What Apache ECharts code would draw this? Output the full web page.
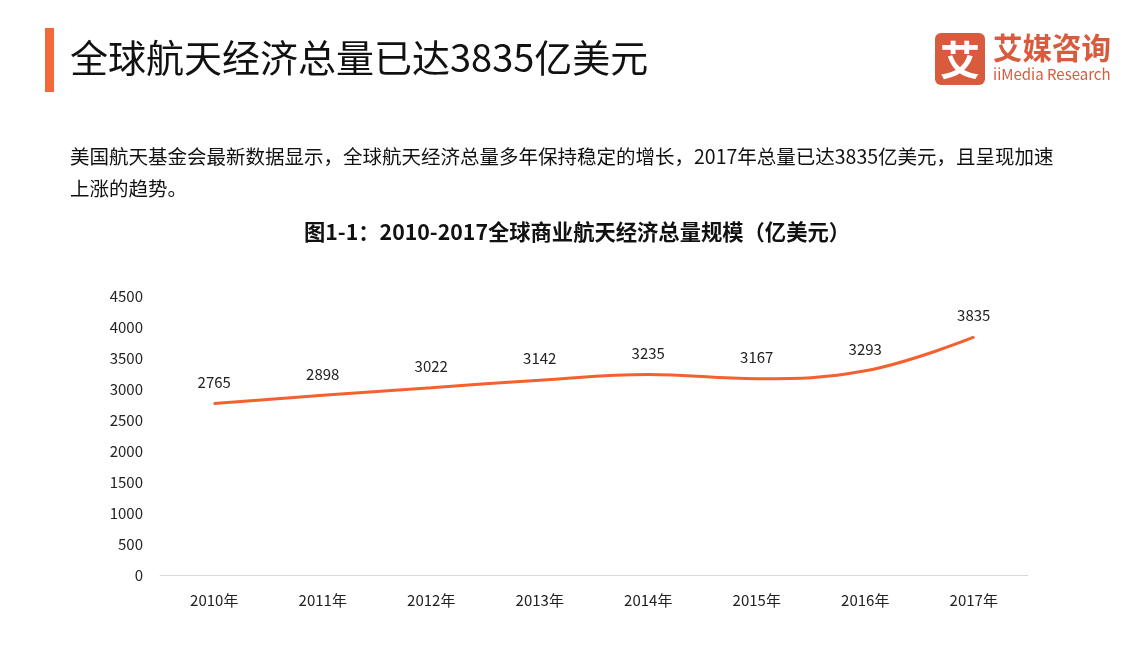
<!DOCTYPE html>
<html><head><meta charset="utf-8">
<script src="https://cdn.jsdelivr.net/npm/echarts@6/dist/echarts.min.js"></script>
<style>html,body{margin:0;padding:0;background:#fff}#c{width:1134px;height:661px}</style>
</head><body><div id="c"></div>
<script>
const categories = ['2010年','2011年','2012年','2013年','2014年','2015年','2016年','2017年'];
const values = [2765, 2898, 3022, 3142, 3235, 3167, 3293, 3835];
const yTicks = [0, 500, 1000, 1500, 2000, 2500, 3000, 3500, 4000, 4500];
const headline = '全球航天经济总量已达3835亿美元';
const paragraph = ['美国航天基金会最新数据显示，全球航天经济总量多年保持稳定的增长，2017年总量已达3835亿美元，且呈现加速', '上涨的趋势。'];
const chartTitle = '图1-1：2010-2017全球商业航天经济总量规模（亿美元）';

const FONT = '"Noto Sans CJK SC","Noto Sans",sans-serif';
const chart = echarts.init(document.getElementById('c'));
chart.setOption({
  backgroundColor: '#fff',
  animation: false,
  grid: {left: 160, right: 106, top: 296, bottom: 86},
  xAxis: {
    type: 'category', data: categories, boundaryGap: true,
    axisLine: {lineStyle: {color: '#d9d9d9', width: 1}},
    axisTick: {show: false},
    axisLabel: {color: '#222', fontSize: 15, fontFamily: FONT, margin: 18}
  },
  yAxis: {
    type: 'value', min: yTicks[0], max: yTicks[yTicks.length-1], interval: 500,
    axisLine: {show: false}, axisTick: {show: false}, splitLine: {show: false},
    axisLabel: {color: '#222', fontSize: 15, fontFamily: FONT, margin: 17, formatter: v => String(v)}
  },
  series: [{
    type: 'line', data: values, smooth: 0.4, symbol: 'circle', symbolSize: 2, showSymbol: true,
    itemStyle: {color: '#f4602e'},
    lineStyle: {color: '#f4602e', width: 3},
    label: {show: true, position: 'top', distance: 13, color: '#222', fontSize: 15, fontFamily: FONT}
  }],
  graphic: [
    {type: 'rect', shape: {x: 45, y: 28, width: 9, height: 64}, style: {fill: '#f4683a'}},
    {type: 'text', x: 70, y: 58, style: {text: headline, font: '38px ' + FONT, fill: '#111', textVerticalAlign: 'middle'}},
    {type: 'text', x: 70, y: 157, style: {text: paragraph[0], font: '19.5px ' + FONT, fill: '#111', textVerticalAlign: 'middle'}},
    {type: 'text', x: 70, y: 189, style: {text: paragraph[1], font: '19.5px ' + FONT, fill: '#111', textVerticalAlign: 'middle'}},
    {type: 'text', x: 577, y: 232, style: {text: chartTitle, font: 'bold 21.3px ' + FONT, fill: '#111', textAlign: 'center', textVerticalAlign: 'middle'}},
    {type: 'rect', shape: {x: 935, y: 33, width: 50, height: 52, r: 6}, style: {fill: '#d95b3e'}},
    {type: 'text', x: 960, y: 60, style: {text: '艾', font: 'bold 40px ' + FONT, fill: '#fff', textAlign: 'center', textVerticalAlign: 'middle'}},
    {type: 'text', x: 993, y: 48, style: {text: '艾媒咨询', font: 'bold 29.5px ' + FONT, fill: '#d95b3e', textVerticalAlign: 'middle'}},
    {type: 'text', x: 993, y: 74, style: {text: 'iiMedia Research', font: '15px ' + FONT, fill: '#d95b3e', textVerticalAlign: 'middle'}}
  ]
});
</script></body></html>
